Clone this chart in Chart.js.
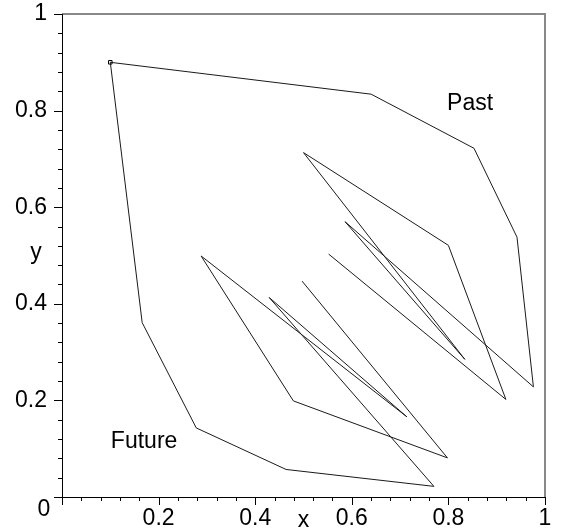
<!DOCTYPE html>
<html>
<head>
<meta charset="utf-8">
<script src="https://cdn.jsdelivr.net/npm/chart.js@4/dist/chart.umd.min.js"></script>
<style>
  html, body { margin: 0; padding: 0; background: #fff; }
  canvas { display: block; }
</style>
</head>
<body>
<canvas id="chart" width="563" height="529"></canvas>
<script>
// trajectory, from the oldest point (past) to the newest (future)
var pathX = [0.552, 0.919, 0.800, 0.500, 0.834, 0.586, 0.976, 0.942, 0.853, 0.640,
             0.100, 0.166, 0.278, 0.464, 0.770, 0.429, 0.714, 0.288, 0.479, 0.798, 0.497];
var pathY = [0.503, 0.202, 0.521, 0.713, 0.285, 0.570, 0.228, 0.538, 0.722, 0.834,
             0.900, 0.361, 0.143, 0.057, 0.022, 0.413, 0.166, 0.499, 0.199, 0.081, 0.447];

// the present point, drawn as a small square
var markX = [0.1];
var markY = [0.9];

var tickValues = [0.2, 0.4, 0.6, 0.8, 1];
var tickLabels = ['0.2', '0.4', '0.6', '0.8', '1'];

var FONT = '"Liberation Sans", Arial, sans-serif';

function toPoints(xs, ys) {
  return xs.map(function(x, i) { return { x: x, y: ys[i] }; });
}

function setTicks(scale) {
  scale.ticks = tickValues.map(function(v) { return { value: v }; });
}

function tickLabel(v) {
  var i = tickValues.indexOf(+v.toFixed(2));
  return i < 0 ? '' : tickLabels[i];
}

// axes lines, box, minor/major tick marks and free text
var framePlugin = {
  id: 'frame',
  afterDraw: function(chart) {
    var c = chart.ctx, a = chart.chartArea;
    var sx = chart.scales.x, sy = chart.scales.y;
    c.save();

    // box top and right
    c.strokeStyle = '#888';
    c.lineWidth = 2;
    c.beginPath();
    c.moveTo(a.left, a.top); c.lineTo(a.right, a.top); c.lineTo(a.right, a.bottom);
    c.stroke();

    // axes
    c.strokeStyle = '#000';
    c.lineWidth = 1;
    c.beginPath();
    c.moveTo(a.left + 0.5, a.top); c.lineTo(a.left + 0.5, a.bottom + 0.5); c.lineTo(a.right, a.bottom + 0.5);
    c.stroke();

    // tick marks every 0.04, long ones every 0.2
    c.beginPath();
    for (var i = 0; i <= 25; i++) {
      var len = (i % 5 === 0) ? 8 : 4;
      var px = Math.round(sx.getPixelForValue(i / 25)) + 0.5;
      c.moveTo(px, a.bottom); c.lineTo(px, a.bottom + len);
      var py = Math.round(sy.getPixelForValue(i / 25)) + 0.5;
      c.moveTo(a.left, py); c.lineTo(a.left - len, py);
    }
    c.stroke();

    c.fillStyle = '#000';
    c.font = '23px ' + FONT;
    c.textAlign = 'center';
    c.textBaseline = 'middle';
    c.fillText('0', 44, 510);
    c.fillText('x', sx.getPixelForValue(0.5), 521);
    c.fillText('y', 36, 253);
    c.fillText('Past', sx.getPixelForValue(0.845), sy.getPixelForValue(0.815));
    c.fillText('Future', sx.getPixelForValue(0.17), sy.getPixelForValue(0.115));
    c.restore();
  }
};

new Chart(document.getElementById('chart'), {
  type: 'scatter',
  data: {
    datasets: [
      {
        data: toPoints(pathX, pathY),
        showLine: true,
        borderColor: '#1a1a1a',
        borderWidth: 1,
        pointRadius: 0,
        tension: 0
      },
      {
        data: toPoints(markX, markY),
        pointStyle: 'rect',
        pointRadius: 2.5,
        borderColor: '#000',
        backgroundColor: '#fff',
        borderWidth: 1
      }
    ]
  },
  options: {
    responsive: false,
    animation: false,
    layout: { padding: { top: 14, right: 18, left: 0, bottom: 0 } },
    plugins: { legend: { display: false }, tooltip: { enabled: false } },
    scales: {
      x: {
        type: 'linear', min: 0, max: 1,
        afterBuildTicks: setTicks,
        afterFit: function(s) { s.height = 32; s.paddingLeft = 0; s.paddingRight = 0; },
        grid: { display: false, drawTicks: false },
        border: { display: false },
        ticks: { callback: tickLabel, autoSkip: false, maxRotation: 0, padding: 8,
                 color: '#000', font: { family: FONT, size: 23 } }
      },
      y: {
        type: 'linear', min: 0, max: 1,
        afterBuildTicks: setTicks,
        afterFit: function(s) { s.width = 62; s.paddingTop = 0; s.paddingBottom = 0; },
        grid: { display: false, drawTicks: false },
        border: { display: false },
        ticks: { callback: tickLabel, autoSkip: false, padding: 15,
                 color: '#000', font: { family: FONT, size: 23 } }
      }
    }
  },
  plugins: [framePlugin]
});
</script>
</body>
</html>
